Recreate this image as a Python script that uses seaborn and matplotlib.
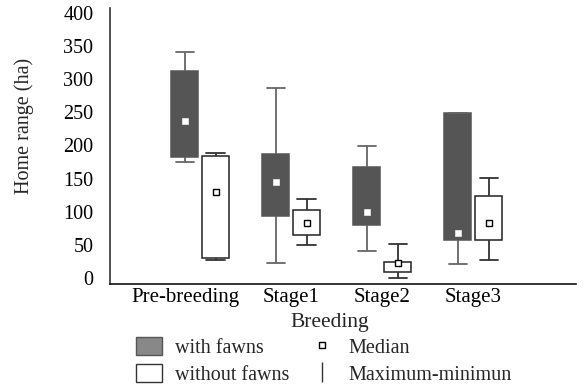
import numpy as np
import pandas as pd
import matplotlib
matplotlib.use("Agg")
import matplotlib.pyplot as plt
import matplotlib.transforms as mtransforms
import seaborn as sns
from matplotlib.patches import Patch
from matplotlib.lines import Line2D

# ---- data ----
stages = ["Pre-breeding", "Stage1", "Stage2", "Stage3"]
groups = ["with fawns", "without fawns"]

with_min = [175, 23, 41, 21]
with_q1 = [183, 94, 80, 57]
with_med = [237, 145, 99, 68]
with_q3 = [312, 187, 167, 248]
with_max = [341, 287, 199, 249]

without_min = [27, 50, 0, 27]
without_q1 = [30, 65, 9, 57]
without_med = [130, 83, 22, 83]
without_q3 = [184, 102, 24, 123]
without_max = [189, 119, 51, 151]

y_ticks = [0, 50, 100, 150, 200, 250, 300, 350, 400]

rows = []
for g, arrs in [(groups[0], [with_min, with_q1, with_med, with_q3, with_max]),
                (groups[1], [without_min, without_q1, without_med, without_q3, without_max])]:
    for i, s in enumerate(stages):
        for a in arrs:
            rows.append((s, g, a[i]))
df = pd.DataFrame(rows, columns=["stage", "group", "home"])

sns.set_style("white")
plt.rcParams['font.family'] = ['Liberation Serif', 'DejaVu Serif']

W, H = 584, 391
fig = plt.figure(figsize=(W / 100, H / 100), dpi=100)
ax = fig.add_axes([110 / W, 1 - 284 / H, (576 - 110) / W, (284 - 8) / H])

dark = "#555555"
palette = {groups[0]: dark, groups[1]: "white"}

n_lines0 = len(ax.lines)
sns.boxplot(data=df, x="stage", y="home", hue="group", hue_order=groups,
            order=stages, palette=palette, saturation=1, width=0.68, gap=0.12,
            whis=(0, 100), showfliers=False, linewidth=1.1, linecolor="#222222",
            medianprops=dict(visible=False),
            whiskerprops=dict(linewidth=1.3), capprops=dict(linewidth=1.3),
            capwidths=0.2, legend=False, ax=ax)

# restyle: boxes of "with fawns" get a grey outline, their whiskers grey
for p in ax.patches:
    fc = p.get_facecolor()
    if fc[0] < 0.5:
        p.set_edgecolor(dark)
for ln in ax.lines[n_lines0:]:
    xd = np.asarray(ln.get_xdata(), dtype=float)
    if xd.size == 0:
        continue
    xm = xd.mean()
    if xm < np.round(xm):
        ln.set_color("#666666")
    else:
        ln.set_color("#333333")

n_before = len(ax.lines)
sns.pointplot(data=df, x="stage", y="home", hue="group", hue_order=groups,
              order=stages, estimator="median", errorbar=None, dodge=0.34,
              linestyle="none", markers="s", markersize=4,
              palette={groups[0]: "white", groups[1]: "white"}, legend=False, ax=ax)
new_lines = ax.lines[n_before:]
for ln, g in zip(new_lines, groups):
    ln.set_markerfacecolor("white")
    if g == groups[0]:
        ln.set_markeredgecolor("#eeeeee")
        ln.set_markeredgewidth(0.5)
    else:
        ln.set_markeredgecolor("black")
        ln.set_markeredgewidth(1.0)
    ln.set_zorder(5)

ax.set_xlim(-0.99, 4.13)
ax.set_ylim(-9, 407)
ax.set_yticks(y_ticks)
ax.set_yticklabels([str(v) for v in y_ticks])
ax.tick_params(axis="y", length=0, labelsize=14.5, colors="black", pad=12)
ax.tick_params(axis="x", length=0, labelsize=15, colors="black", pad=3)
for sp in ["top", "right"]:
    ax.spines[sp].set_visible(False)
ax.spines["left"].set_color("#333333")
ax.spines["bottom"].set_color("#111111")
ax.spines["left"].set_linewidth(1.2)
ax.spines["bottom"].set_linewidth(1.2)

# the first category label sits a bit left of its boxes in the reference
fig.canvas.draw()
lab0 = ax.get_xticklabels()[0]
lab0.set_transform(lab0.get_transform() +
                   mtransforms.ScaledTranslation(-15 / 100, 0, fig.dpi_scale_trans))

ax.set_ylabel("Home range (ha)", fontsize=14.5)
ax.yaxis.set_label_coords(-0.163, 0.572)
ax.set_xlabel("Breeding", fontsize=15.5)
ax.xaxis.set_label_coords(0.472, -0.105)
ax.xaxis.label.set_va("top")

handles = [Patch(facecolor="#888888", edgecolor="#555555"),
           Patch(facecolor="white", edgecolor="#333333"),
           Line2D([], [], marker="s", ls="none", mfc="white", mec="black", markersize=5),
           Line2D([], [], marker="|", ls="none", color="#333333", markersize=14)]
labels = ["with fawns", "without fawns", "Median", "Maximum-minimun"]
fig.legend(handles, labels, ncol=2, loc="upper left",
           bbox_to_anchor=(136 / W, 1 - 337 / H), frameon=False,
           borderpad=0, borderaxespad=0, fontsize=14.5, handlelength=1.3,
           handleheight=0.98, handletextpad=0.65, columnspacing=0.95,
           labelspacing=0.3)

fig.savefig("out.png", dpi=100)
